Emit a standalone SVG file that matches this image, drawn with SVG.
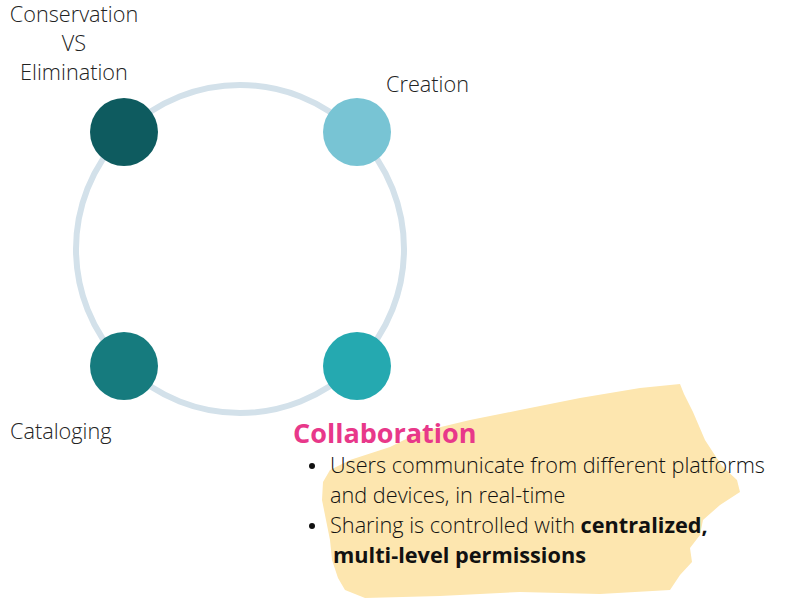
<svg xmlns="http://www.w3.org/2000/svg" width="800" height="600" viewBox="0 0 800 600">
<style>
.lbl{font-family:"Open Sans","Liberation Sans",sans-serif;font-weight:300;font-size:21.7px;fill:#222}
.bul{font-family:"Open Sans","Liberation Sans",sans-serif;font-weight:300;font-size:21.7px;fill:#111}
.b{font-weight:700}
.title{font-family:"Open Sans","Liberation Sans",sans-serif;font-weight:700;font-size:27px;fill:#E8388A}
</style>
<rect width="800" height="600" fill="#fff"/>
<g id="highlight">
<path fill="#FDE6AF" d="M390 447 L420 432 L470 420 L520 410 L580 398 L640 388 L680 384 L684 394 L693 412 L705 440 L722 466 L737 480 L740 492 L720 505 L703 520 L700 535 L690 548 L692 562 L680 575 L670 590 L600 594 L520 592 L440 596 L365 598 L345 590 L338 578 L332 560 L330 540 L326 520 L322 500 L323 482 L330 470 L350 460 Z"/>
</g>
<g id="connectors">
<circle cx="240" cy="249" r="164" fill="none" stroke="#D3E1EA" stroke-width="6"/>
</g>
<g id="node-conservation">
<circle cx="124" cy="132" r="34" fill="#0E5B5F"/>
<text class="lbl" text-anchor="middle" x="74" y="22">Conservation</text>
<text class="lbl" text-anchor="middle" x="74" y="51">VS</text>
<text class="lbl" text-anchor="middle" x="74" y="80">Elimination</text>
</g>
<g id="node-creation">
<circle cx="357" cy="132" r="34" fill="#78C4D4"/>
<text class="lbl" x="386" y="92">Creation</text>
</g>
<g id="node-cataloging">
<circle cx="124" cy="366" r="34" fill="#167B7E"/>
<text class="lbl" x="10" y="439">Cataloging</text>
</g>
<g id="node-collaboration">
<circle cx="357" cy="366" r="34" fill="#25A9B0"/>
<text class="title" x="293" y="443">Collaboration</text>
<circle cx="312" cy="466" r="3" fill="#111"/>
<text class="bul" x="330" y="473">Users communicate from different platforms</text>
<text class="bul" x="330" y="503">and devices, in real-time</text>
<circle cx="312" cy="526" r="3" fill="#111"/>
<text class="bul" x="330" y="533">Sharing is controlled with <tspan class="b">centralized,</tspan></text>
<text class="bul b" x="333" y="563">multi-level permissions</text>
</g>
</svg>
